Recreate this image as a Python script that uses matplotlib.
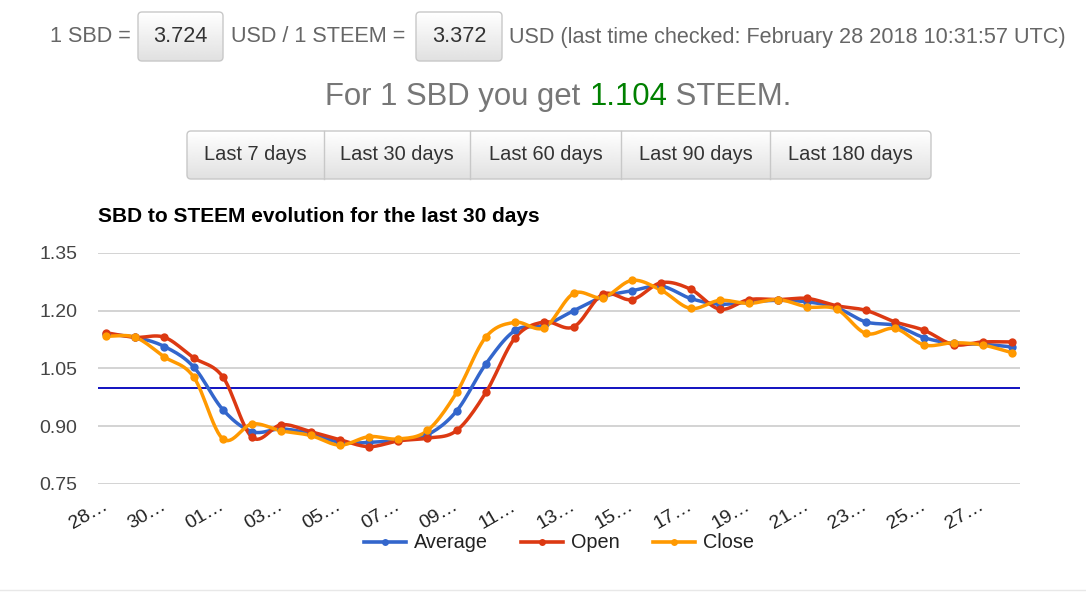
import numpy as np
import matplotlib
matplotlib.use("Agg")
import matplotlib.pyplot as plt
import matplotlib.transforms as mtrans
from matplotlib.patches import FancyBboxPatch
from matplotlib.lines import Line2D

plt.rcParams['font.family'] = ['Liberation Sans', 'DejaVu Sans']

# ---------------- data ----------------
dates = ["28 Jan", "29 Jan", "30 Jan", "31 Jan"] + ["%02d Feb" % d for d in range(1, 29)]
tick_labels = ["28…", "30…", "01…", "03…", "05…", "07…", "09…", "11…",
               "13…", "15…", "17…", "19…", "21…", "23…", "25…", "27…"]
average = [1.139, 1.131, 1.107, 1.054, 0.943, 0.886, 0.893, 0.881, 0.858, 0.858,
           0.864, 0.878, 0.940, 1.062, 1.149, 1.162, 1.200, 1.236, 1.252, 1.264,
           1.232, 1.217, 1.223, 1.227, 1.223, 1.208, 1.171, 1.162, 1.130, 1.115,
           1.113, 1.106]
open_ = [1.143, 1.131, 1.131, 1.078, 1.028, 0.871, 0.904, 0.886, 0.865, 0.847,
         0.862, 0.869, 0.889, 0.988, 1.130, 1.171, 1.158, 1.243, 1.229, 1.273,
         1.256, 1.204, 1.229, 1.229, 1.232, 1.213, 1.201, 1.171, 1.149, 1.112,
         1.119, 1.119]
close = [1.134, 1.131, 1.080, 1.028, 0.867, 0.906, 0.888, 0.876, 0.851, 0.873,
         0.867, 0.889, 0.988, 1.132, 1.170, 1.156, 1.245, 1.234, 1.279, 1.253,
         1.206, 1.227, 1.219, 1.229, 1.210, 1.204, 1.141, 1.154, 1.111, 1.117,
         1.111, 1.091]
parity = 1.0
y_ticks = [0.75, 0.90, 1.05, 1.20, 1.35]
sbd_usd = "3.724"
steem_usd = "3.372"
ratio = "1.104"
buttons = ["Last 7 days", "Last 30 days", "Last 60 days", "Last 90 days", "Last 180 days"]

W, H = 1086, 612
fig = plt.figure(figsize=(W / 100, H / 100), dpi=100)
fig.patch.set_facecolor("white")

# ---------------- overlay in pixel coords ----------------
ov = fig.add_axes([0, 0, 1, 1])
ov.set_xlim(0, W)
ov.set_ylim(H, 0)
ov.axis("off")

grad = np.linspace(1.0, 0.88, 64).reshape(-1, 1)

def button(x0, x1, y0, y1, rounding=4):
    patch = FancyBboxPatch((x0, y0), x1 - x0, y1 - y0,
                           boxstyle="round,pad=0,rounding_size=%d" % rounding,
                           facecolor="none", edgecolor="#c8c8c8", lw=1.0, zorder=3)
    ov.add_patch(patch)
    im = ov.imshow(grad, cmap="gray", vmin=0, vmax=1, extent=(x0, x1, y1, y0),
                   aspect="auto", zorder=2, interpolation="bilinear")
    im.set_clip_path(patch)

txt_gray = "#666666"
fs_head = 15.6
ov.text(50, 37, "1 SBD =", fontsize=fs_head, color=txt_gray, va="center", ha="left")
button(138, 223, 12, 61)
ov.text(180.5, 37, sbd_usd, fontsize=fs_head, color="#333333", va="center", ha="center", zorder=4)
ov.text(231, 37, "USD / 1 STEEM =", fontsize=fs_head, color=txt_gray, va="center", ha="left")
button(416, 502, 12, 61)
ov.text(459, 37, steem_usd, fontsize=fs_head, color="#333333", va="center", ha="center", zorder=4)
ov.text(509, 37, "USD (last time checked: February 28 2018 10:31:57 UTC)",
        fontsize=fs_head, color=txt_gray, va="center", ha="left")

# second line, centered, with coloured value
fs2 = 22.4
blend = mtrans.blended_transform_factory(mtrans.IdentityTransform(), ov.transData)
parts = [("For 1 SBD you get ", "#777777"), (ratio, "#008000"), (" STEEM.", "#777777")]
fig.canvas.draw()
r = fig.canvas.get_renderer()
objs = []
for s, c in parts:
    objs.append(ov.text(0, 97, s, fontsize=fs2, color=c, va="center", ha="left", transform=blend))
widths = [o.get_window_extent(r).width for o in objs]
xpos = 558.5 - sum(widths) / 2
for o, w in zip(objs, widths):
    o.set_x(xpos)
    xpos += w

# button group
edges = [187, 324, 470, 621, 770, 931]
outer = FancyBboxPatch((edges[0], 131), edges[-1] - edges[0], 48,
                       boxstyle="round,pad=0,rounding_size=4",
                       facecolor="none", edgecolor="#c8c8c8", lw=1.0, zorder=3)
ov.add_patch(outer)
im = ov.imshow(grad, cmap="gray", vmin=0, vmax=1, extent=(edges[0], edges[-1], 179, 131),
               aspect="auto", zorder=2, interpolation="bilinear")
im.set_clip_path(outer)
for e in edges[1:-1]:
    ov.plot([e, e], [131, 179], color="#c8c8c8", lw=1.0, zorder=3)
for i, lab in enumerate(buttons):
    ov.text((edges[i] + edges[i + 1]) / 2, 155, lab, fontsize=14.4, color="#333333",
            va="center", ha="center", zorder=4)

# chart title
ov.text(98, 216, "SBD to STEEM evolution for the last 30 days", fontsize=15,
        fontweight="bold", color="black", va="center", ha="left")

# bottom separator
ov.plot([0, W], [590, 590], color="#e8e8e8", lw=1.0)

# ---------------- chart ----------------
ax_l, ax_r, ax_t, ax_b = 98, 1020, 253, 484
ax = fig.add_axes([ax_l / W, 1 - ax_b / H, (ax_r - ax_l) / W, (ax_b - ax_t) / H])
ax.set_facecolor("none")
n = len(dates)
x = np.arange(n)
px_per = (1012 - 106) / (n - 1)
ax.set_xlim(-(106 - ax_l) / px_per, (n - 1) + (ax_r - 1012) / px_per)
ax.set_ylim(0.75, 1.35)

def smooth(xs, ys, k=12):
    xs = np.asarray(xs, float)
    ys = np.asarray(ys, float)
    m = np.zeros_like(ys)
    m[1:-1] = (ys[2:] - ys[:-2]) / 2
    m[0] = ys[1] - ys[0]
    m[-1] = ys[-1] - ys[-2]
    X, Y = [], []
    t = np.linspace(0, 1, k, endpoint=False)
    h00 = 2 * t**3 - 3 * t**2 + 1
    h10 = t**3 - 2 * t**2 + t
    h01 = -2 * t**3 + 3 * t**2
    h11 = t**3 - t**2
    for i in range(len(xs) - 1):
        X.append(xs[i] + t * (xs[i + 1] - xs[i]))
        Y.append(h00 * ys[i] + h10 * m[i] + h01 * ys[i + 1] + h11 * m[i + 1])
    X.append([xs[-1]])
    Y.append([ys[-1]])
    return np.concatenate(X), np.concatenate(Y)

for yv in y_ticks:
    ax.axhline(yv, color="#cccccc", lw=1.2, zorder=1)
ax.axhline(parity, color="#1010c0", lw=1.4, zorder=2)

series = [("Average", average, "#3366cc"), ("Open", open_, "#dc3912"), ("Close", close, "#ff9900")]
handles = []
for name, vals, col in series:
    sx, sy = smooth(x, vals)
    ax.plot(sx, sy, color=col, lw=2.5, zorder=3, solid_capstyle="round")
    ax.plot(x, vals, "o", color=col, ms=6, zorder=4, mec="none")
    handles.append(Line2D([0], [0], color=col, lw=2.6, marker="o", ms=5, mec="none"))

for s in ax.spines.values():
    s.set_visible(False)
ax.set_yticks(y_ticks)
ax.set_yticklabels(["%.2f" % v for v in y_ticks])
ax.tick_params(axis="y", length=0, pad=15, labelsize=14, labelcolor="#444444")
ax.set_xticks(x[::2])
ax.set_xticklabels(tick_labels, rotation=30, ha="right", va="center", rotation_mode="anchor")
ax.tick_params(axis="x", length=0, pad=15, labelsize=14, labelcolor="#222222")

leg = fig.legend(handles, [s[0] for s in series], loc="center",
                 bbox_to_anchor=((ax_l + ax_r) / 2 / W, 1 - 543 / H), ncol=3,
                 frameon=False, fontsize=14.3, handlelength=2.1, columnspacing=1.7,
                 handletextpad=0.4, labelcolor="#222222")

fig.savefig("out.png", dpi=100, facecolor="white")
